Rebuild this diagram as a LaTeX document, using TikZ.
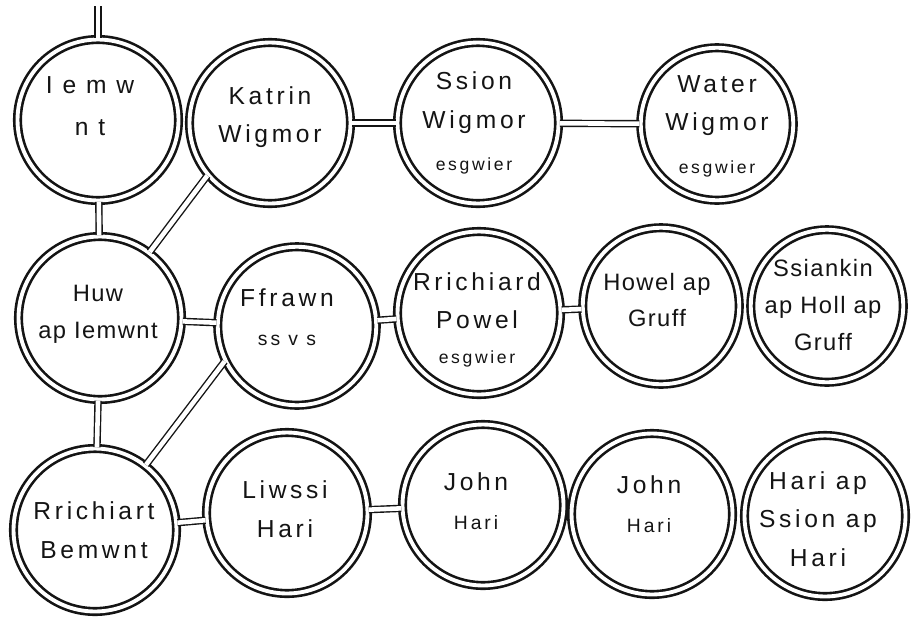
\documentclass[tikz,border=0pt]{standalone}
\usepackage{fontspec}
\setmainfont{Liberation Sans}
\newfontfamily\handfont{Liberation Sans}[LetterSpace=15]
\newfontfamily\widehand{Liberation Sans}[LetterSpace=40]
\newfontfamily\tighthand{Liberation Sans}[LetterSpace=6]
\usepackage{xcolor}
\usepackage{tikz}
\definecolor{ink}{HTML}{141414}
\tikzset{
  person/.style={circle, draw=ink, line width=1.5pt, double, double distance=2.2pt, inner sep=0pt, minimum size=#1},
  person/.default=3.22cm,
  bond/.style={draw=ink, line width=0.8pt, double, double distance=2.6pt},
  nametext/.style={align=center, text=ink, font=\handfont\fontsize{14}{22}\selectfont},
  widename/.style={nametext, font=\widehand\fontsize{14}{24}\selectfont},
  tightname/.style={nametext, font=\tighthand\fontsize{13.5}{21}\selectfont},
}
\newcommand{\esg}{{\fontsize{10}{10}\selectfont esgwier}}

\begin{document}
\begin{tikzpicture}[x=0.02cm, y=-0.02cm]
        \useasboundingbox (0,0) rectangle (912,619);
        \fill[white] (0,0) rectangle (912,619);

        \node[person] (iemwnt) at (98,120) {};
        \node[person] (katrin) at (270,123) {};
        \node[person] (ssion) at (478,123) {};
        \node[person=3.05cm] (water) at (717,124) {};
        \node[person=3.26cm] (huw) at (100,318) {};
        \node[person=3.17cm] (ffrawn) at (297,326) {};
        \node[person=3.26cm] (rrichiard) at (479,313) {};
        \node[person=3.13cm] (howel) at (661,306) {};
        \node[person=3.05cm] (ssiankin) at (827,306) {};
        \node[person=3.26cm] (rrichiart) at (95,530) {};
        \node[person] (liwssi) at (287,513) {};
        \node[person] (johnA) at (483,505) {};
        \node[person] (johnB) at (652,514) {};
        \node[person] (hari) at (825,516) {};

        \node[widename] (iemwnt-t) at (90,106) {Iemw\\nt};
        \node[nametext] (katrin-t) at (270,117) {Katrin\\Wigmor};
        \node[nametext] (ssion-t) at (474,123) {Ssion\\Wigmor\\[2pt]\esg};
        \node[nametext] (water-t) at (717,126) {Water\\Wigmor\\[2pt]\esg};
        \node[tightname] (huw-t) at (98,314) {Huw\\ap Iemwnt};
        \node[nametext] (ffrawn-t) at (287,317) {Ffrawn\\{\fontsize{11}{11}\selectfont ss v s}};
        \node[nametext] (rrichiard-t) at (477,320) {Rrichiard\\Powel\\[-2pt]\esg};
        \node[tightname] (howel-t) at (657,300) {Howel ap\\Gruff};
        \node[tightname] (ssiankin-t) at (823,305) {Ssiankin\\ap Holl ap\\Gruff};
        \node[nametext] (rrichiart-t) at (94,530) {Rrichiart\\Bemwnt};
        \node[nametext] (liwssi-t) at (285,509) {Liwssi\\Hari};
        \node[nametext] (johnA-t) at (476,501) {John\\{\fontsize{11}{11}\selectfont Hari}};
        \node[nametext] (johnB-t) at (649,504) {John\\{\fontsize{11}{11}\selectfont Hari}};
        \node[nametext] (hari-t) at (818,519) {Hari ap\\Ssion ap\\Hari};

        \coordinate (top) at (98,6);
        \draw[bond] (top) -- (iemwnt);
        \draw[bond] (iemwnt) -- (huw);
        \draw[bond] (huw) -- (rrichiart);
        \draw[bond] (katrin) -- (ssion);
        \draw[bond] (ssion) -- (water);
        \draw[bond] (huw) -- (ffrawn);
        \draw[bond] (ffrawn) -- (rrichiard);
        \draw[bond] (rrichiard) -- (howel);
        \draw[bond] (rrichiart) -- (liwssi);
        \draw[bond] (liwssi) -- (johnA);
        \draw[bond] (huw.53) -- (katrin.220);
        \draw[bond] (ffrawn.206) -- (rrichiart.52);
      \end{tikzpicture}
\end{document}
